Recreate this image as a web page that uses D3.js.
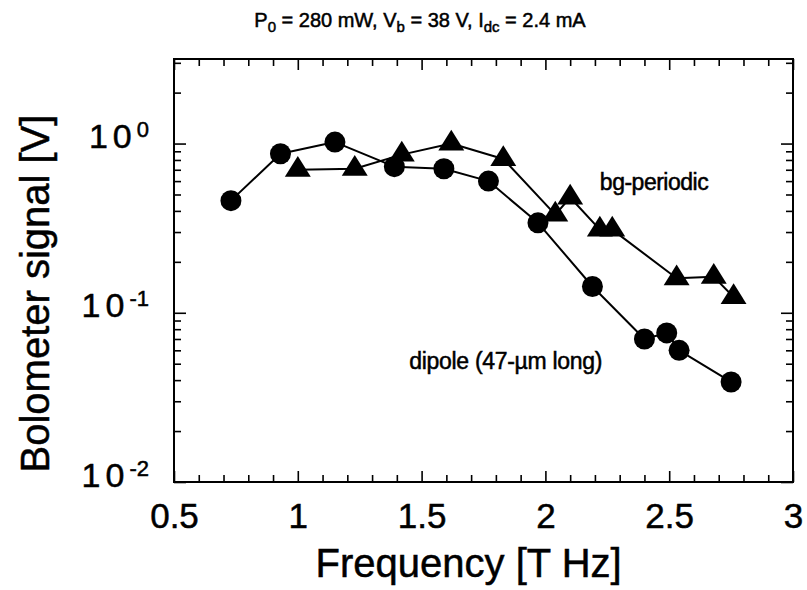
<!DOCTYPE html>
<html>
<head>
<meta charset="utf-8">
<script src="https://cdn.jsdelivr.net/npm/d3@7"></script>
<style>
	body { margin: 0; background: #fff; }
	svg { display: block; font-family: "Liberation Sans", Arial, sans-serif; }
	svg text { stroke: #000; stroke-width: 0.5px; }
	.axis .domain { display: none; }
	.axis line { stroke: #000; stroke-width: 1.6; }
</style>
</head>
<body>
<svg id="chart" width="807" height="590"></svg>
<script>
// dipole antenna (circles)
var dipoleFreq = [0.73, 0.93, 1.15, 1.39, 1.59, 1.77, 1.97, 2.19, 2.40, 2.49, 2.54, 2.75];
var dipoleSignal = [0.46, 0.87, 1.02, 0.73, 0.71, 0.60, 0.34, 0.143, 0.070, 0.076, 0.060, 0.039];

// bg-periodic antenna (triangles)
var periodicFreq = [1.00, 1.23, 1.42, 1.62, 1.83, 2.04, 2.10, 2.22, 2.27, 2.53, 2.68, 2.76];
var periodicSignal = [0.70, 0.71, 0.86, 1.0, 0.81, 0.38, 0.48, 0.31, 0.31, 0.16, 0.163, 0.124];

var xTicks = [0.5, 1, 1.5, 2, 2.5, 3];
var xTickLabels = ["0.5", "1", "1.5", "2", "2.5", "3"];
var yTicks = [0.01, 0.1, 1];
var yTickExps = ["-2", "-1", "0"];

var margin = {top: 59, right: 14, bottom: 108, left: 174},
	width = 807 - margin.left - margin.right,
	height = 590 - margin.top - margin.bottom;

var x = d3.scaleLinear().domain([0.5, 3]).range([0, width]),
	y = d3.scaleLog().domain([0.01, 3.16]).range([height, 0]);

var svg = d3.select("#chart");
var g = svg.append("g")
	.attr("transform", "translate(" + margin.left + "," + margin.top + ")");

// minor ticks
var xMinor = d3.range(6, 30).map(function(d) { return d / 10; })
	.filter(function(d) { return Math.abs(d * 2 - Math.round(d * 2)) > 1e-6; });
var yMinor = [];
[0.01, 0.1, 1].forEach(function(dec) {
	d3.range(2, 10).forEach(function(k) {
		if (k * dec <= 3.16) yMinor.push(k * dec);
	});
});

g.append("g").attr("class", "axis")
	.attr("transform", "translate(0," + height + ")")
	.call(d3.axisBottom(x).tickValues(xMinor).tickSize(-7).tickFormat(""));
g.append("g").attr("class", "axis")
	.call(d3.axisTop(x).tickValues(xMinor).tickSize(-7).tickFormat(""));
g.append("g").attr("class", "axis")
	.call(d3.axisTop(x).tickValues(xTicks).tickSize(-11).tickFormat(""));

var xAxis = g.append("g").attr("class", "axis")
	.attr("transform", "translate(0," + height + ")")
	.call(d3.axisBottom(x).tickValues(xTicks).tickSize(-11).tickPadding(21)
		.tickFormat(function(d, i) { return xTickLabels[i]; }));
xAxis.selectAll("text")
	.attr("fill", "#000")
	.style("font-size", "35px");

g.append("g").attr("class", "axis")
	.call(d3.axisLeft(y).tickValues(yMinor).tickSize(-7).tickFormat(""));
g.append("g").attr("class", "axis")
	.attr("transform", "translate(" + width + ",0)")
	.call(d3.axisRight(y).tickValues(yMinor).tickSize(-7).tickFormat(""));
g.append("g").attr("class", "axis")
	.attr("transform", "translate(" + width + ",0)")
	.call(d3.axisRight(y).tickValues(yTicks).tickSize(-12).tickFormat(""));

var yAxis = g.append("g").attr("class", "axis")
	.call(d3.axisLeft(y).tickValues(yTicks).tickSize(-12).tickPadding(25).tickFormat(""));
yAxis.selectAll(".tick text")
	.attr("fill", "#000")
	.attr("dy", "0.12em")
	.style("font-size", "34px")
	.each(function(d, i) {
		var t = d3.select(this);
		t.append("tspan").attr("letter-spacing", "5px").text("10");
		t.append("tspan").attr("dy", "-0.5em").style("font-size", "22px").text(yTickExps[i]);
	});

// frame
g.append("rect")
	.attr("width", width)
	.attr("height", height)
	.attr("fill", "none")
	.attr("stroke", "#000")
	.attr("stroke-width", 2);

var dipole = dipoleFreq.map(function(f, i) { return {f: f, v: dipoleSignal[i]}; });
var periodic = periodicFreq.map(function(f, i) { return {f: f, v: periodicSignal[i]}; });

var line = d3.line()
	.x(function(d) { return x(d.f); })
	.y(function(d) { return y(d.v); });

[dipole, periodic].forEach(function(data) {
	g.append("path")
		.datum(data)
		.attr("fill", "none")
		.attr("stroke", "#000")
		.attr("stroke-width", 2)
		.attr("stroke-linejoin", "round")
		.attr("d", line);
});

g.append("g")
	.selectAll("circle")
	.data(dipole)
	.enter()
	.append("circle")
	.attr("cx", function(d) { return x(d.f); })
	.attr("cy", function(d) { return y(d.v); })
	.attr("r", 10.5)
	.attr("fill", "#000");

// wide, flat triangle marker
var flatTriangle = {
	draw: function(context, size) {
		var w = Math.sqrt(size) * 0.82, h = w * 0.8;
		context.moveTo(0, -h * 2 / 3);
		context.lineTo(w / 2, h / 3);
		context.lineTo(-w / 2, h / 3);
		context.closePath();
	}
};

g.append("g")
	.selectAll("path")
	.data(periodic)
	.enter()
	.append("path")
	.attr("transform", function(d) { return "translate(" + x(d.f) + "," + y(d.v) + ")"; })
	.attr("d", d3.symbol().type(flatTriangle).size(1000))
	.attr("fill", "#000");

// annotations
g.append("text")
	.attr("x", x(2.22))
	.attr("y", y(0.39) - 23)
	.attr("letter-spacing", "-0.5px")
	.style("font-size", "23px")
	.text("bg-periodic");

g.append("text")
	.attr("x", x(1.45))
	.attr("y", y(0.1) + 56)
	.attr("letter-spacing", "-0.3px")
	.style("font-size", "23px")
	.text("dipole (47-\u00b5m long)");

// axis titles
svg.append("text")
	.attr("x", margin.left + x(1.69))
	.attr("y", 577)
	.attr("text-anchor", "middle")
	.style("font-size", "40px")
	.text("Frequency [T Hz]");

svg.append("text")
	.attr("transform", "translate(49," + (margin.top + y(0.13)) + ") rotate(-90)")
	.attr("text-anchor", "middle")
	.style("font-size", "40px")
	.text("Bolometer signal [V]");

// title with subscripts
var title = svg.append("text")
	.attr("x", 420)
	.attr("y", 27)
	.attr("text-anchor", "middle")
	.style("font-size", "20px");
[["P", ""], ["0", "sub"], [" = 280 mW, V", ""], ["b", "sub"], [" = 38 V, I", ""], ["dc", "sub"], [" = 2.4 mA", ""]]
	.forEach(function(p, i, arr) {
		var prevSub = i > 0 && arr[i - 1][1] === "sub";
		var ts = title.append("tspan").text(p[0]);
		if (p[1] === "sub") ts.attr("dy", 5).style("font-size", "15px");
		else if (prevSub) ts.attr("dy", -5);
	});
</script>
</body>
</html>
